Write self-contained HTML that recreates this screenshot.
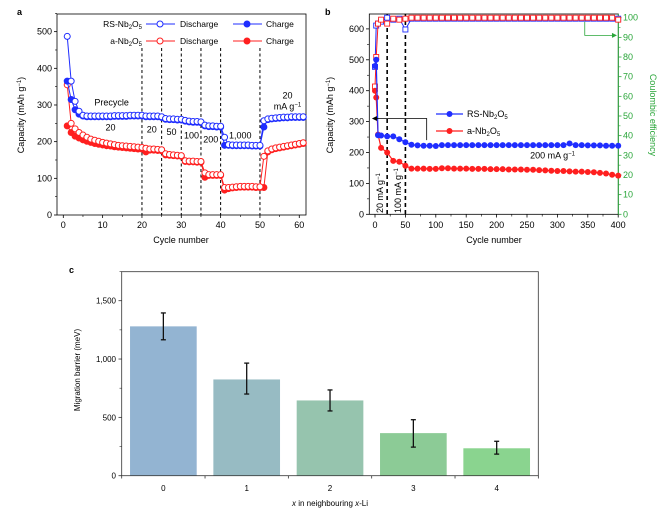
<!DOCTYPE html>
<html><head><meta charset="utf-8"><style>
html,body{margin:0;padding:0;background:#fff;}
svg{display:block;font-family:"Liberation Sans",Arial,sans-serif;}
</style></head><body>
<svg id="fig" width="667" height="515" viewBox="0 0 667 515" xmlns="http://www.w3.org/2000/svg"></svg>
<script>
// ---------- Panel a data ----------
const aCycles = [];
for (let i = 1; i <= 61; i++) aCycles.push(i);
const aRSDis = [487,365,310,283,272,270,270,270,270,270,270,270,271,271,271,271,272,272,272,272,
  270,270,270,270,268,263,262,262,261,261,258,256,255,255,254,245,243,243,242,242,
  212,192,191,191,191,191,191,190,190,190,257,262,264,265,266,267,267,268,268,268,268];
const aRSCh = [365,315,287,275,270,268,268,268,268,268,268,268,269,269,269,269,270,270,270,270,
  268,268,268,268,266,261,260,260,259,259,256,254,253,253,252,243,241,241,240,240,
  190,190,189,189,189,189,189,188,188,188,240,260,262,263,264,265,265,266,266,266,266];
const aNbDis = [355,250,235,225,218,212,207,204,201,198,196,194,192,190,189,188,187,186,185,184,
  182,180,180,179,178,167,165,164,163,162,148,147,147,146,146,115,110,110,110,110,
  75,75,76,77,78,78,78,78,77,77,160,175,180,183,185,187,189,191,193,195,197];
const aNbCh = [243,225,215,210,205,201,198,195,193,191,189,188,186,185,184,183,182,181,180,180,
  172,177,177,176,175,164,163,162,161,160,146,145,145,144,144,103,108,108,108,108,
  68,72,74,75,76,76,76,76,75,75,75,172,178,181,183,185,187,189,191,193,195];
const aXTicks = [0,10,20,30,40,50,60];
const aYTicks = [0,100,200,300,400,500];
const aDash = [20,25,30,35,40,50];
// ---------- Panel b data ----------
const bRSCyc = [0,2,5,10,20,30,40,50,60,70,80,90,100,110,120,130,140,150,160,170,180,190,200,210,220,230,240,250,260,270,280,290,300,310,320,330,340,350,360,370,380,390,400];
const bRSCap = [480,500,256,255,252,252,243,233,225,223,222,222,221,224,224,224,224,224,224,224,224,224,224,224,224,224,224,224,224,224,224,224,224,224,229,224,224,223,223,223,222,222,222];
const bNbCyc = [0,2,5,10,20,30,40,50,60,70,80,90,100,110,120,130,140,150,160,170,180,190,200,210,220,230,240,250,260,270,280,290,300,310,320,330,340,350,360,370,380,390,400];
const bNbCap = [400,378,258,215,200,173,170,157,148,148,148,147,147,149,149,148,148,148,147,147,147,146,146,146,145,145,145,144,144,143,142,141,140,140,139,138,138,137,136,134,132,128,125];
const bRSCE = [75,96,97,98,100,99,99.5,94,99.5,99.5,99.5,99.5,99.5,99.5,99.5,99.5,99.5,99.5,99.5,99.5,99.5,99.5,99.5,99.5,99.5,99.5,99.5,99.5,99.5,99.5,99.5,99.5,99.5,99.5,99.5,99.5,99.5,99.5,99.5,99.5,99.5,99.5,99.5];
const bNbCE = [65,80,97,99,97,99.5,99,99.5,100,100,100,100,100,100,100,100,100,100,100,100,100,100,100,100,100,100,100,100,100,100,100,100,100,100,100,100,100,100,100,100,100,100,99];
const bXTicks = [0,50,100,150,200,250,300,350,400];
const bYTicks = [0,100,200,300,400,500,600];
const bCETicks = [0,10,20,30,40,50,60,70,80,90,100];
// ---------- Panel c data ----------
const cCats = ["0","1","2","3","4"];
const cVals = [1280,825,645,365,235];
const cErrHi = [1395,965,735,480,295];
const cErrLo = [1165,700,555,245,185];
const cYTicks = [0,500,1000,1500];
const cYLabels = ["0","500","1,000","1,500"];
const cColors = ["#93b4d2","#97bbc3","#96c4ae","#8ccb96","#8ad48f"];

const NS = "http://www.w3.org/2000/svg";
const svg = document.getElementById('fig');
function el(tag, attrs, parent, text) {
  const e = document.createElementNS(NS, tag);
  for (const k in attrs) e.setAttribute(k, attrs[k]);
  if (text !== undefined) e.textContent = text;
  (parent || svg).appendChild(e);
  return e;
}
function grp(name) {
  const g = el('g', {});
  
  
  return g;
}
const BLUE = "#1f2dff", RED = "#ff1f1f", GREEN = "#2aa63a";

// ================= Panel a =================
const ax = v => 63.3 + v * 3.933;
const ay = v => 215 - v * 0.3667;
(function () {
  const g = grp('panel-a');
  const t = el('text', {x: 17, y: 15, 'font-size': 9, 'font-weight': 'bold'}, g, 'a');
   
  const frame = el('rect', {x: 57, y: 14, width: 249, height: 201, fill: 'none', stroke: '#000', 'stroke-width': 0.8}, g);
   
  aXTicks.forEach(v => {
    el('line', {x1: ax(v), x2: ax(v), y1: 215, y2: 218, stroke: '#000', 'stroke-width': 0.8}, g);
    if (v < 60) el('line', {x1: ax(v + 5), x2: ax(v + 5), y1: 215, y2: 217, stroke: '#000', 'stroke-width': 0.6}, g);
    const l = el('text', {x: ax(v), y: 228, 'font-size': 9, 'text-anchor': 'middle'}, g, v);
     
  });
  aYTicks.forEach(v => {
    el('line', {x1: 54, x2: 57, y1: ay(v), y2: ay(v), stroke: '#000', 'stroke-width': 0.8}, g);
    el('line', {x1: 55, x2: 57, y1: ay(v + 50), y2: ay(v + 50), stroke: '#000', 'stroke-width': 0.6}, g);
    const l = el('text', {x: 52, y: ay(v) + 3, 'font-size': 9, 'text-anchor': 'end'}, g, v);
     
  });
  const xt = el('text', {x: 181, y: 243, 'font-size': 9, 'text-anchor': 'middle'}, g, 'Cycle number');
   
  const yt = el('text', {x: 0, y: 0, 'font-size': 9, 'text-anchor': 'middle', transform: 'translate(24,115) rotate(-90)'}, g);
  yt.innerHTML = 'Capacity (mAh g<tspan dy="-3" font-size="6">−1</tspan><tspan dy="3">)</tspan>';
   
  aDash.forEach(v => {
    const d = el('line', {x1: ax(v), x2: ax(v), y1: 48, y2: 215, stroke: '#000', 'stroke-width': 1, 'stroke-dasharray': '3,2.5'}, g);
     
  });
  function series(vals, color, filled, name) {
    const sg = grp(name); g.appendChild(sg);
    el('polyline', {points: vals.map((v, i) => ax(aCycles[i]) + ',' + ay(v)).join(' '), fill: 'none', stroke: color, 'stroke-width': 1}, sg);
    vals.forEach((v, i) => {
      const c = el('circle', {cx: ax(aCycles[i]), cy: ay(v), r: 3, fill: filled ? color : '#fff', stroke: color, 'stroke-width': 1}, sg);
       
    });
  }
  series(aNbCh, RED, true, 'a-nb2o5-charge');
  series(aNbDis, RED, false, 'a-nb2o5-discharge');
  series(aRSCh, BLUE, true, 'rs-nb2o5-charge');
  series(aRSDis, BLUE, false, 'rs-nb2o5-discharge');
  // legend
  const lg = grp('legend-a'); g.appendChild(lg);
  function entry(y, label, color) {
    const t1 = el('text', {x: 142, y: y + 3, 'font-size': 8.5, 'text-anchor': 'end'}, lg);
    t1.innerHTML = label;
    el('line', {x1: 146, x2: 175, y1: y, y2: y, stroke: color, 'stroke-width': 1}, lg);
    el('circle', {cx: 160, cy: y, r: 3, fill: '#fff', stroke: color}, lg);
    el('text', {x: 180, y: y + 3, 'font-size': 8.5}, lg, 'Discharge');
    el('line', {x1: 233, x2: 262, y1: y, y2: y, stroke: color, 'stroke-width': 1}, lg);
    el('circle', {cx: 247, cy: y, r: 3, fill: color, stroke: color}, lg);
    el('text', {x: 266, y: y + 3, 'font-size': 8.5}, lg, 'Charge');
  }
  entry(24, 'RS-Nb<tspan dy="2" font-size="6">2</tspan><tspan dy="-2">O</tspan><tspan dy="2" font-size="6">5</tspan>', BLUE);
  entry(41, 'a-Nb<tspan dy="2" font-size="6">2</tspan><tspan dy="-2">O</tspan><tspan dy="2" font-size="6">5</tspan>', RED);
  const ann = [[ax(12.3), ay(298), 'Precycle'], [ax(12), ay(230), '20'], [ax(22.5), ay(225), '20'], [ax(27.5), ay(218), '50'],
    [ax(32.6), ay(208), '100'], [ax(37.5), ay(198), '200'], [ax(45), ay(208), '1,000'], [ax(57), ay(318), '20']];
  ann.forEach(a => {
    const t = el('text', {x: a[0], y: a[1], 'font-size': 9, 'text-anchor': 'middle'}, g, a[2]);
     
  });
  const mt = el('text', {x: ax(57), y: ay(288), 'font-size': 9, 'text-anchor': 'middle'}, g);
  mt.innerHTML = 'mA g<tspan dy="-3" font-size="6">−1</tspan>';
   
})();

// ================= Panel b =================
const bx = v => 375 + v * 0.608;
const by = v => 214.3 - v * 0.309;
const bce = v => 214.3 - v * 1.966;
(function () {
  const g = grp('panel-b');
  const t = el('text', {x: 325, y: 15, 'font-size': 9, 'font-weight': 'bold'}, g, 'b');
   
  const frame = el('rect', {x: 369.3, y: 14, width: 249, height: 200.3, fill: 'none', stroke: '#000', 'stroke-width': 0.8}, g);
   
  el('line', {x1: 618.3, x2: 618.3, y1: 14, y2: 214.3, stroke: GREEN, 'stroke-width': 1}, g);
  bXTicks.forEach(v => {
    el('line', {x1: bx(v), x2: bx(v), y1: 214.3, y2: 217.5, stroke: '#000', 'stroke-width': 0.8}, g);
    if (v < 400) el('line', {x1: bx(v + 25), x2: bx(v + 25), y1: 214.3, y2: 216.5, stroke: '#000', 'stroke-width': 0.6}, g);
    const l = el('text', {x: bx(v), y: 228, 'font-size': 9, 'text-anchor': 'middle'}, g, v);
     
  });
  bYTicks.forEach(v => {
    el('line', {x1: 366, x2: 369.3, y1: by(v), y2: by(v), stroke: '#000', 'stroke-width': 0.8}, g);
    if (v < 600) el('line', {x1: 367, x2: 369.3, y1: by(v + 50), y2: by(v + 50), stroke: '#000', 'stroke-width': 0.6}, g);
    const l = el('text', {x: 364, y: by(v) + 3, 'font-size': 9, 'text-anchor': 'end'}, g, v);
     
  });
  bCETicks.forEach(v => {
    el('line', {x1: 618.3, x2: 621.5, y1: bce(v), y2: bce(v), stroke: GREEN, 'stroke-width': 0.8}, g);
    if (v < 100) el('line', {x1: 618.3, x2: 620.5, y1: bce(v + 5), y2: bce(v + 5), stroke: GREEN, 'stroke-width': 0.6}, g);
    const l = el('text', {x: 623, y: bce(v) + 3, 'font-size': 9, fill: GREEN}, g, v);
     
  });
  const xt = el('text', {x: 494, y: 243, 'font-size': 9, 'text-anchor': 'middle'}, g, 'Cycle number');
   
  const yt = el('text', {x: 0, y: 0, 'font-size': 9, 'text-anchor': 'middle', transform: 'translate(333,115) rotate(-90)'}, g);
  yt.innerHTML = 'Capacity (mAh g<tspan dy="-3" font-size="6">−1</tspan><tspan dy="3">)</tspan>';
   
  const ct = el('text', {x: 0, y: 0, 'font-size': 9, 'text-anchor': 'middle', fill: GREEN, transform: 'translate(650,115) rotate(90)'}, g, 'Coulombic efficiency');
   
  [20, 50].forEach(v => {
    const d = el('line', {x1: bx(v), x2: bx(v), y1: 14, y2: 214.3, stroke: '#000', 'stroke-width': 1.6, 'stroke-dasharray': '4,3'}, g);
     
  });
  function capSeries(cyc, vals, color, name) {
    const sg = grp(name); g.appendChild(sg);
    el('polyline', {points: vals.map((v, i) => bx(cyc[i]) + ',' + by(v)).join(' '), fill: 'none', stroke: color, 'stroke-width': 1.2}, sg);
    vals.forEach((v, i) => {
      const c = el('circle', {cx: bx(cyc[i]), cy: by(v), r: 3, fill: color}, sg);
       
    });
  }
  function ceSeries(cyc, vals, color, name) {
    const sg = grp(name); g.appendChild(sg);
    el('polyline', {points: vals.map((v, i) => bx(cyc[i]) + ',' + bce(v)).join(' '), fill: 'none', stroke: color, 'stroke-width': 1}, sg);
    vals.forEach((v, i) => {
      const c = el('rect', {x: bx(cyc[i]) - 2.5, y: bce(v) - 2.5, width: 5, height: 5, fill: '#fff', stroke: color, 'stroke-width': 0.9}, sg);
       
    });
  }
  ceSeries(bRSCyc, bRSCE, BLUE, 'rs-nb2o5-ce');
  ceSeries(bNbCyc, bNbCE, RED, 'a-nb2o5-ce');
  capSeries(bNbCyc, bNbCap, RED, 'a-nb2o5-capacity');
  capSeries(bRSCyc, bRSCap, BLUE, 'rs-nb2o5-capacity');
  // arrows
  const ar = grp('left-axis-arrow'); g.appendChild(ar);
  el('polyline', {points: `${bx(85)},${by(240)} ${bx(85)},${by(310)} ${bx(-4)},${by(310)}`, fill: 'none', stroke: '#000', 'stroke-width': 0.8}, ar);
  el('path', {d: `M${bx(-5)},${by(310)} l5,-2.5 l0,5 z`, fill: '#000'}, ar);
  const gr = grp('right-axis-arrow'); g.appendChild(gr);
  el('polyline', {points: `${bx(345)},${bce(98)} ${bx(345)},${bce(91)} ${bx(395)},${bce(91)}`, fill: 'none', stroke: GREEN, 'stroke-width': 0.8}, gr);
  el('path', {d: `M${bx(398)},${bce(91)} l-5,-2.5 l0,5 z`, fill: GREEN}, gr);
  // legend
  const lg = grp('legend-b'); g.appendChild(lg);
  [[114, 'RS-Nb', BLUE], [131, 'a-Nb', RED]].forEach(e => {
    el('line', {x1: 436, x2: 463, y1: e[0], y2: e[0], stroke: e[2], 'stroke-width': 1.2}, lg);
    el('circle', {cx: 449.5, cy: e[0], r: 3, fill: e[2]}, lg);
    const t = el('text', {x: 467, y: e[0] + 3, 'font-size': 9}, lg);
    t.innerHTML = e[1] + '<tspan dy="2" font-size="6">2</tspan><tspan dy="-2">O</tspan><tspan dy="2" font-size="6">5</tspan>';
  });
  const r1 = el('text', {x: 0, y: 0, 'font-size': 9, transform: `translate(${bx(13)},${213}) rotate(-90)`}, g);
  r1.innerHTML = '20 mA g<tspan dy="-3" font-size="6">−1</tspan>';
   
  const r2 = el('text', {x: 0, y: 0, 'font-size': 9, transform: `translate(${bx(43)},${213}) rotate(-90)`}, g);
  r2.innerHTML = '100 mA g<tspan dy="-3" font-size="6">−1</tspan>';
   
  const r3 = el('text', {x: bx(292), y: by(180), 'font-size': 9, 'text-anchor': 'middle'}, g);
  r3.innerHTML = '200 mA g<tspan dy="-3" font-size="6">−1</tspan>';
   
})();

// ================= Panel c =================
const cy = v => 475.7 - v * 0.11667;
const band = 83.33, cLeft = 121.7;
const cx = i => cLeft + band * (i + 0.5);
(function () {
  const g = grp('panel-c');
  const t = el('text', {x: 69, y: 273, 'font-size': 9, 'font-weight': 'bold'}, g, 'c');
   
  cVals.forEach((v, i) => {
    const b = el('rect', {x: cx(i) - band * 0.4, y: cy(v), width: band * 0.8, height: cy(0) - cy(v), fill: cColors[i]}, g);
     
    const eg = grp('error-bar-' + cCats[i]); g.appendChild(eg);
    el('line', {x1: cx(i), x2: cx(i), y1: cy(cErrHi[i]), y2: cy(cErrLo[i]), stroke: '#111', 'stroke-width': 1.3}, eg);
    el('line', {x1: cx(i) - 2.5, x2: cx(i) + 2.5, y1: cy(cErrHi[i]), y2: cy(cErrHi[i]), stroke: '#111', 'stroke-width': 1.3}, eg);
    el('line', {x1: cx(i) - 2.5, x2: cx(i) + 2.5, y1: cy(cErrLo[i]), y2: cy(cErrLo[i]), stroke: '#111', 'stroke-width': 1.3}, eg);
    const l = el('text', {x: cx(i), y: 491, 'font-size': 8, 'text-anchor': 'middle'}, g, cCats[i]);
     
  });
  const frame = el('rect', {x: 121.7, y: 271.7, width: 416.6, height: 204, fill: 'none', stroke: '#333', 'stroke-width': 0.8}, g);
   
  for (let i = 0; i <= 5; i++) el('line', {x1: cLeft + band * i, x2: cLeft + band * i, y1: 475.7, y2: 478.5, stroke: '#333', 'stroke-width': 0.8}, g);
  cYTicks.forEach((v, i) => {
    el('line', {x1: 118.5, x2: 121.7, y1: cy(v), y2: cy(v), stroke: '#333', 'stroke-width': 0.8}, g);
    el('line', {x1: 119.5, x2: 121.7, y1: cy(v + 250), y2: cy(v + 250), stroke: '#333', 'stroke-width': 0.6}, g);
    const l = el('text', {x: 116, y: cy(v) + 3, 'font-size': 8, 'text-anchor': 'end'}, g, cYLabels[i]);
     
  });
  const xt = el('text', {x: 330, y: 506, 'font-size': 8, 'text-anchor': 'middle'}, g);
  xt.innerHTML = '<tspan font-style="italic">x</tspan> in neighbouring <tspan font-style="italic">x</tspan>-Li';
   
  const yt = el('text', {x: 0, y: 0, 'font-size': 8, 'text-anchor': 'middle', transform: 'translate(80,370) rotate(-90)'}, g, 'Migration barrier (meV)');
   
})();
</script>
</body></html>
